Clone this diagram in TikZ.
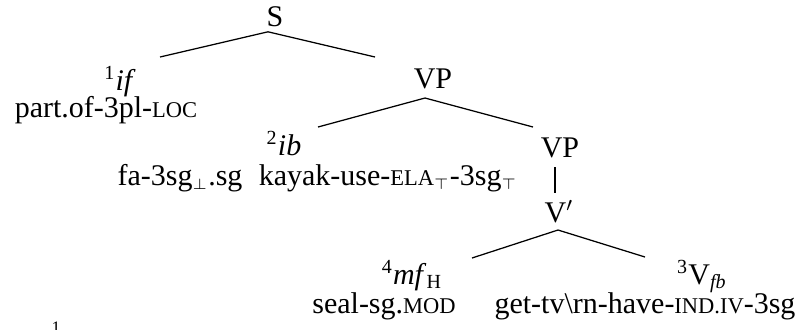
\documentclass[tikz,border=0pt]{standalone}
\usepackage{fontspec}
\setmainfont{Liberation Serif}
\usetikzlibrary{calc}

% small caps for gloss abbreviations
\newcommand\glsc[1]{{\fontsize{9}{10}\selectfont #1}}
% tiny index marks on glosses
\newcommand\idx[1]{$_{\scriptscriptstyle #1}$}

\tikzset{
  tn/.style={anchor=base, inner sep=0pt, font=\fontsize{12}{14}\selectfont},
  gloss/.style={tn},
  branch/.style={line width=0.5pt, draw=black},
  fnmark/.style={anchor=base, inner sep=0pt, font=\fontsize{7}{8}\selectfont},
}

\begin{document}
\begin{tikzpicture}[x=0.4pt, y=-0.4pt]
  \useasboundingbox (0,0) rectangle (810,329);

  % phrase labels
  \node[tn] (S)    at (275,26)  {S};
  \node[tn] (vp1)  at (433,88)  {VP};
  \node[tn] (vp2)  at (560,157) {VP};
  \node[tn] (vbar) at (559,222) {V$'$};

  % leaves and their glosses
  \node[tn] (if) at (120,90) {\textsuperscript{1}\textit{if}};
  \node[gloss] (g-if) at (106,117) {part.of-3pl-\glsc{LOC}};

  \node[tn] (ib) at (284,155) {\textsuperscript{2}\textit{ib}};
  \node[gloss] (g-fa)    at (180,185) {fa-3sg\idx{\perp}.sg};
  \node[gloss] (g-kayak) at (388,185) {kayak-use-\glsc{ELA}\idx{\top}-3sg\idx{\top}};

  \node[tn] (mf) at (412,284) {\textsuperscript{4}\textit{mf}\textsubscript{H}};
  \node[gloss] (g-seal) at (384,313) {seal-sg.\glsc{MOD}};

  \node[tn] (v3) at (702,284) {\textsuperscript{3}V\textsubscript{\textit{fb}}};
  \node[gloss] (g-get) at (645,313) {get-tv\textbackslash rn-have-\glsc{IND.IV}-3sg};

  \node[fnmark] (fn) at (56,333) {1};

  % branches
  \draw[branch] ($(S.south)+(-7,5)$) -- ($(if.base)+(40,-33)$);
  \draw[branch] ($(S.south)+(-7,5)$) -- ($(vp1.base)+(-58,-31)$);
  \draw[branch] ($(vp1.base)+(-8,10)$) -- ($(ib.base)+(34,-28)$);
  \draw[branch] ($(vp1.base)+(-8,10)$) -- ($(vp2.base)+(-27,-30)$);
  \draw[branch] ($(vp2.base)+(-5,10)$) -- ($(vbar.base)+(-4,-29)$);
  \draw[branch] ($(vbar.base)+(-1,8)$) -- ($(mf.base)+(60,-26)$);
  \draw[branch] ($(vbar.base)+(-1,8)$) -- ($(v3.base)+(-57,-27)$);
\end{tikzpicture}
\end{document}
